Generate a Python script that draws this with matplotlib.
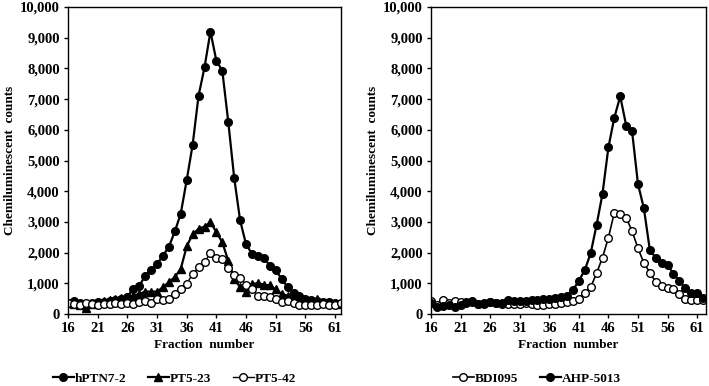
import numpy as np
import matplotlib.pyplot as plt

plt.rcParams['font.family'] = ['Liberation Serif', 'DejaVu Serif']
plt.rcParams['font.weight'] = 'bold'

# --- data ---------------------------------------------------------------------
fractions = np.arange(16, 63)

hptn7_2 = [370, 420, 350, 330, 360, 380, 400, 420, 450, 500, 560, 830, 910, 1250, 1430,
           1630, 1900, 2190, 2690, 3270, 4360, 5510, 7110, 8030, 9200, 8250, 7925, 6265,
           4440, 3050, 2270, 1960, 1900, 1840, 1570, 1420, 1150, 870, 690, 580, 500, 450,
           420, 400, 380, 350, 330]
pt5_23 = [350, 330, 280, 200, 330, 400, 430, 460, 490, 520, 560, 600, 650, 730, 730,
          730, 870, 1040, 1200, 1470, 2200, 2600, 2770, 2850, 2985, 2670, 2330, 1740,
          1150, 870, 720, 980, 1000, 960, 930, 800, 650, 600, 550, 500, 450, 420, 480,
          400, 380, 350, 330]
pt5_42 = [350, 330, 280, 350, 330, 280, 330, 330, 370, 330, 350, 320, 380, 430, 360,
          500, 450, 480, 650, 820, 990, 1300, 1520, 1680, 2000, 1840, 1780, 1510, 1260,
          1170, 950, 800, 600, 580, 550, 500, 400, 420, 350, 300, 300, 300, 300, 330,
          300, 300, 370]

bdi095 = [430, 300, 460, 350, 410, 400, 350, 400, 330, 350, 380, 350, 350, 330, 320,
          340, 350, 330, 300, 300, 320, 330, 350, 380, 430, 500, 690, 870, 1330, 1840,
          2490, 3300, 3270, 3140, 2700, 2140, 1660, 1350, 1040, 920, 840, 830, 640, 490,
          470, 470, 440]
ahp_5013 = [350, 240, 260, 280, 230, 280, 400, 420, 330, 320, 380, 370, 340, 460, 430,
            420, 430, 460, 470, 480, 500, 520, 540, 600, 780, 1080, 1430, 1980, 2900,
            3920, 5430, 6400, 7090, 6140, 5950, 4230, 3440, 2090, 1830, 1670, 1600, 1310,
            1080, 840, 680, 670, 520]

xticks = np.arange(16, 62, 5)
yticks = np.arange(0, 10001, 1000)

# --- figure -------------------------------------------------------------------
fig = plt.figure(figsize=(7.09, 3.86), dpi=100)
ax1 = fig.add_axes([68 / 709, 1 - 314 / 386, 273 / 709, 307 / 386])
ax2 = fig.add_axes([431 / 709, 1 - 314 / 386, 275 / 709, 307 / 386])

kw = dict(color='black', linewidth=1.6, markersize=5.5, markeredgewidth=1.0)

ax1.plot(fractions, hptn7_2, marker='o', label='hPTN7-2', **kw)
ax1.plot(fractions, pt5_23, marker='^', label='PT5-23', **kw)
ax1.plot(fractions, pt5_42, marker='o', markerfacecolor='white', label='PT5-42',
         color='black', linewidth=1.0, markersize=5.5, markeredgewidth=1.0)

ax2.plot(fractions, bdi095, marker='o', markerfacecolor='white', label='BDI095',
         color='black', linewidth=1.2, markersize=5.5, markeredgewidth=1.0)
ax2.plot(fractions, ahp_5013, marker='o', label='AHP-5013', **kw)

fs = 10.5
for ax, xmax, lx in ((ax1, 62, 0.39), (ax2, 62.5, 0.385)):
    ax.set_xlim(16, xmax)
    ax.set_ylim(0, 10000)
    ax.set_xticks(xticks)
    ax.set_yticks(yticks)
    ax.set_yticklabels([f'{v:,}' for v in yticks])
    ax.tick_params(direction='out', length=3, width=1, labelsize=fs, pad=3)
    for lbl in ax.get_xticklabels() + ax.get_yticklabels():
        lbl.set_fontweight('bold')
    for s in ax.spines.values():
        s.set_linewidth(1.0)
    ax.set_xlabel('Fraction  number', fontsize=9.5, fontweight='bold', labelpad=3)
    ax.set_ylabel('Chemiluminescent  counts', fontsize=9.5, fontweight='bold', labelpad=3)
    ax.legend(loc='center', bbox_to_anchor=(lx, -0.21), ncol=3, frameon=False,
              handlelength=1.6, handletextpad=0.1, columnspacing=1.6,
              prop={'weight': 'bold', 'size': 9.5})

fig.savefig('out.png', dpi=100)
